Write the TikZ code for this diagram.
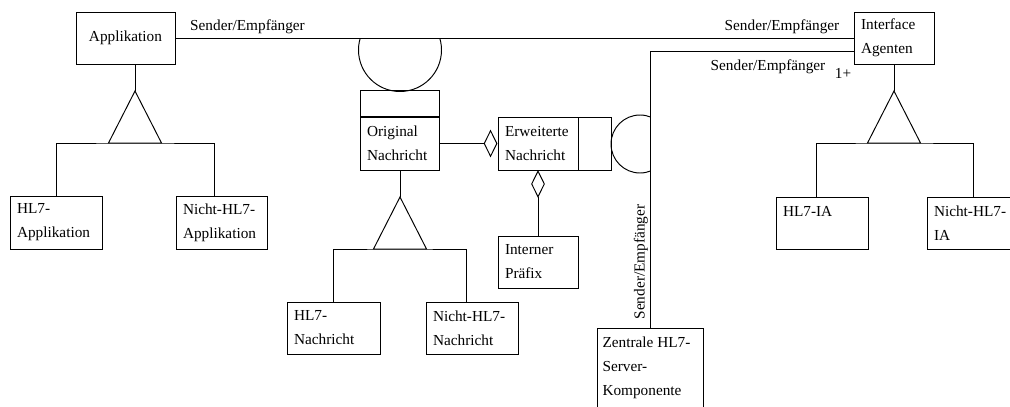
\documentclass[tikz,border=0pt]{standalone}
\usepackage{fontspec}
\setmainfont{Liberation Serif}
\usetikzlibrary{positioning,shapes.geometric}

\begin{document}
\begin{tikzpicture}[x=0.02cm, y=-0.02cm, line width=0.55pt,
    klasse/.style ={draw, minimum height=1.04cm, inner xsep=0.14cm, inner ysep=0pt, align=left, font=\fontsize{8.7}{13.7}\selectfont},
    rolle/.style ={inner sep=0pt, font=\fontsize{8.7}{10}\selectfont},
    aggregat/.style ={diamond, draw, minimum width=0.26cm, minimum height=0.52cm, inner sep=0pt}]
   \useasboundingbox (0,0) rectangle (1010,406);

   \node[klasse, text width=1.70cm, align=center] (app) at (125.5,38) {Applikation};
   \node[klasse, text width=1.32cm] (ia) at (894,38) {Interface\\Agenten};
   \node[klasse, minimum height=1.06cm, text width=1.56cm] (hl7app) at (56,222.5) {HL7-\\Applikation};
   \node[klasse, minimum height=1.06cm, text width=1.54cm] (nhl7app) at (221.5,222.5) {Nicht-HL7-\\Applikation};
   \node[klasse, minimum height=1.06cm, text width=1.30cm] (orig) at (399.5,143.5) {Original\\Nachricht};
   \node[klasse, minimum height=0.52cm, text width=1.30cm, above=0pt of orig] (orighead) {};
   \node[klasse, minimum height=1.06cm, text width=1.32cm] (erw) at (538,143.5) {Erweiterte\\Nachricht};
   \node[klasse, minimum height=1.06cm, text width=0.38cm, right=0pt of erw] (erwtail) {};
   \node[aggregat, left=0pt of erw] (agg1) {};
   \node[aggregat, below=0pt of erw] (agg2) {};
   \node[klasse, text width=1.32cm] (intern) at (538,262) {Interner\\Präfix};
   \node[klasse, text width=1.58cm] (hl7nach) at (333.5,328) {HL7-\\Nachricht};
   \node[klasse, text width=1.56cm] (nhl7nach) at (472,328) {Nicht-HL7-\\Nachricht};
   \node[klasse, text width=1.56cm] (hl7ia) at (822,223) {HL7-IA\\\mbox{}};
   \node[klasse, text width=1.56cm] (nhl7ia) at (973,223) {Nicht-HL7-\\IA};
   \node[klasse, minimum height=1.6cm, inner xsep=0.11cm, text width=1.90cm] (zent) at (650,368) {Zentrale\kern0.25em HL7-\\Server-\\Komponente};

   \node[rolle] (s1) at (247.5,27) {Sender/Empfänger};
   \node[rolle] (s2) at (782,27) {Sender/Empfänger};
   \node[rolle] (s3) at (768,67) {Sender/Empfänger};
   \node[rolle] (m1) at (843,73) {1+};
   \node[rolle, rotate=90] (s4) at (641,262) {Sender/Empfänger};

   \draw (app) -- (ia);
   \draw ([yshift=-0.26cm]ia.west) -| (zent.north);
   \begin{scope}
      \clip (350,38) rectangle (450,100);
      \draw (400,50) circle[radius=41.5];
   \end{scope}
   \begin{scope}
      \clip (600,100) rectangle (650,190);
      \draw (640,144) circle[radius=29];
   \end{scope}

   \draw (orig) -- (agg1);
   \draw (agg2) -- (intern);

   \coordinate (appgen) at (135,91);
   \coordinate (appbase) at (135,143);
   \draw (app.south -| appgen) -- (appgen);
   \draw (appgen) -- ++(-26.5,52) -- ++(53,0) -- cycle;
   \draw (hl7app.north) |- (appbase) -| ([xshift=-0.15cm]nhl7app.north);

   \coordinate (origgen) at (400,197);
   \coordinate (origbase) at (400,249);
   \draw (orig.south -| origgen) -- (origgen);
   \draw (origgen) -- ++(-26.5,52) -- ++(53,0) -- cycle;
   \draw (hl7nach.north) |- (origbase) -| ([xshift=-0.12cm]nhl7nach.north);

   \coordinate (iagen) at (894,91);
   \coordinate (iabase) at (894,143);
   \draw (ia.south) -- (iagen);
   \draw (iagen) -- ++(-26.5,52) -- ++(53,0) -- cycle;
   \draw ([xshift=-0.12cm]hl7ia.north) |- (iabase) -| (nhl7ia.north);
\end{tikzpicture}
\end{document}
